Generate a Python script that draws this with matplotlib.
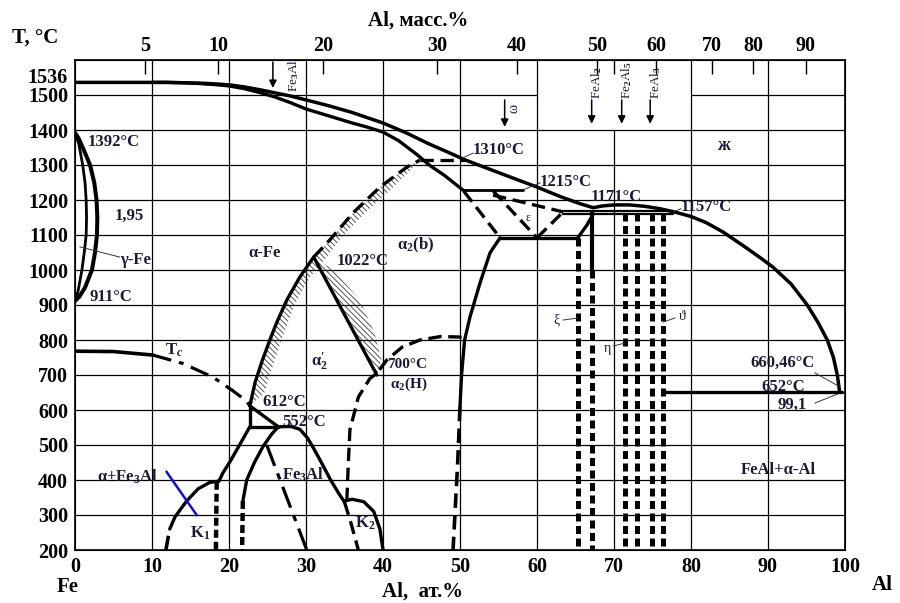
import matplotlib
matplotlib.use('Agg')
from matplotlib import pyplot as plt
from matplotlib.patches import Polygon

plt.rcParams['font.family'] = ['Liberation Serif', 'DejaVu Serif']
plt.rcParams['mathtext.fontset'] = 'custom'
plt.rcParams['mathtext.rm'] = 'Liberation Serif:bold'
plt.rcParams['mathtext.it'] = 'Liberation Serif:italic:bold'
plt.rcParams['mathtext.bf'] = 'Liberation Serif:bold'
plt.rcParams['hatch.linewidth'] = 0.6

# all curves: x = Al, at.%   y = T, degC
liq_x = [0, 10, 12, 14, 16, 18, 20, 22, 24, 26, 28, 30, 33, 36, 40, 43, 46, 48.5, 50.5, 53, 56,
         60, 63, 65.5, 67.3, 68.5, 70, 72, 74, 76, 78, 80, 82, 84.2, 87, 89, 90.6, 93, 95.1,
         96.5, 97.7, 98.5, 99.0, 99.3]
liq_t = [1536, 1536, 1536, 1535, 1534, 1532, 1529, 1523, 1515, 1506, 1497, 1486, 1469, 1450, 1420,
         1392, 1360, 1336, 1316, 1295, 1270, 1237, 1210, 1190, 1178, 1183, 1186, 1186, 1182, 1175,
         1165, 1153, 1135, 1108, 1066, 1035, 1009, 960, 900, 850, 800, 750, 700, 652]

sol_x = [10, 12, 14, 16, 18, 20, 22, 24, 26, 28, 30, 33, 36, 38, 40, 42, 44.4, 46, 48, 50.4]
sol_t = [1536, 1536, 1535, 1533, 1530, 1526, 1518, 1507, 1494, 1478, 1460, 1440, 1420, 1408,
         1394, 1370, 1330, 1300, 1270, 1228]

gamma_out_x = [0, 0.5, 1.2, 1.95, 2.5, 2.8, 2.9, 2.85, 2.6, 2.2, 1.3, 0.6, 0]
gamma_out_t = [1392, 1375, 1340, 1300, 1250, 1200, 1150, 1100, 1050, 1000, 950, 925, 911]
gamma_in_x = [0, 0.5, 1.0, 1.3, 1.45, 1.5, 1.45, 1.2, 0.9, 0.4, 0]
gamma_in_t = [1392, 1360, 1300, 1250, 1200, 1150, 1100, 1050, 1000, 940, 911]

# alpha / alpha2 boundary
a2_solid_x = [22.7, 23.4, 24.3, 25.3, 26.2, 27.5, 29.2, 31]
a2_solid_t = [612, 680, 740, 800, 850, 914, 980, 1037]
a2_dash_x = [31, 33.1, 36.1, 39.6, 43.1, 44.8]
a2_dash_t = [1037, 1086, 1163, 1237, 1294, 1314]
b_h_x = [31, 39.2]
b_h_t = [1037, 700]
h_dash_x = [35.3, 35.5, 35.7, 36.8, 38.3, 39.2, 40.5, 42.5, 44.8, 47.5, 50.7]
h_dash_t = [340, 449, 543, 637, 690, 705, 743, 780, 800, 810, 808]

# hatched bands (edges)
band_a_x = [22.9, 24.6, 25.6, 26.8, 28.5, 30.5, 32.8, 34.5, 37.5, 41, 43.8, 44.8]
band_a_t = [615, 650, 720, 800, 900, 980, 1040, 1090, 1160, 1230, 1290, 1314]
band_b_x = [31, 33.6, 37.0, 38.9, 39.8, 39.2]
band_b_t = [1037, 1000, 914, 820, 743, 700]

# B2 / FeAl boundary
b2_x = [55.2, 53.9, 52.6, 51.3, 50.6, 50.2, 50.0]
b2_t = [1092, 1049, 963, 866, 800, 700, 609]
b2_dash_x = [50.0, 49.7, 49.1]
b2_dash_t = [609, 450, 200]

# epsilon region
iso1215_x = [50.4, 58.2]
iso1215_t = [1228, 1228]
eps_left_x = [50.5, 55.2]
eps_left_t = [1225, 1092]
eps_mid_x = [54.3, 60]
eps_mid_t = [1226, 1092]
eps_right_x = [60, 63.4]
eps_right_t = [1092, 1166]
eps_top_x = [54.3, 63.4]
eps_top_t = [1214, 1166]
iso1092_x = [55.2, 65.3]
iso1092_t = [1092, 1092]
xi_top_x = [65.3, 66.5, 67.3]
xi_top_t = [1092, 1129, 1160]
iso1166_x = [63.4, 77.6]
iso1166_hi = 1169
iso1166_lo = 1159

# intermetallic phase boundaries (vertical)
xi_x = 65.3
fe_al2_x = 67.2
al_phases_x = [71.4, 73.0, 74.9, 76.4]

eut_x = [76.4, 99.6]
eut_t = [652, 652]

# low temperature part
tc_x = [0, 5, 10.1, 14, 17.9, 20.5, 22.3, 22.7]
tc_t = [768, 767, 757, 733, 694, 655, 625, 612]
v612_x = [22.7, 22.7]
v612_t = [612, 552]
d612_x = [22.7, 26.4]
d612_t = [612, 552]
iso552_x = [22.7, 26.4]
iso552_t = [552, 552]
k1_arc_x = [22.7, 21.5, 20.2, 19.2, 18.7]
k1_arc_t = [552, 505, 455, 420, 397]
k1_x = [12.3, 13, 14.5, 16, 17.5, 18.7]
k1_t = [260, 295, 340, 375, 393, 397]
k1_low_x = [11.8, 12.3]
k1_low_t = [200, 260]
v183_x = [18.4, 18.3]
v183_t = [395, 200]
fe3al_in_x = [26.4, 25.5, 24.4, 23.3, 22.3, 21.8]
fe3al_in_t = [552, 530, 495, 450, 400, 340]
fe3al_in_dash_x = [21.8, 21.7]
fe3al_in_dash_t = [340, 200]
fe3al_out_x = [26.4, 28.0, 29.2, 30.2, 31.0, 32.0, 33.2, 34.3, 35.0]
fe3al_out_t = [552, 553, 545, 520, 490, 450, 400, 360, 337]
fe3al_out_dash_x = [35.0, 35.8, 36.8]
fe3al_out_dash_t = [337, 280, 200]
fe3al_dd_x = [24.9, 30.1]
fe3al_dd_t = [500, 200]
k2_x = [35.0, 36.0, 37.5, 38.8, 39.6, 40.0]
k2_t = [340, 345, 338, 310, 260, 200]
blue_x = [11.9, 15.8]
blue_t = [423, 300]

# top axis: Al mass.% ticks placed at at.% positions
mass_tick_pos = [9.1, 18.6, 32.2, 47.0, 57.4, 67.8, 70.0, 75.5, 82.7, 88.1, 94.9]
mass_tick_lab = ['5', '10', '20', '30', '40', '50', '', '60', '70', '80', '90']
at_ticks = [0, 10, 20, 30, 40, 50, 60, 70, 80, 90, 100]
t_ticks = [200, 300, 400, 500, 600, 700, 800, 900, 1000, 1100, 1200, 1300, 1400, 1500]

# phase arrows at the top: (at.%, label)
arrow_x = [25.7, 55.8, 67.1, 71.0, 74.7]
arrow_lab = [r'Fe$_3$Al', 'ω', r'FeAl$_2$', r'Fe$_2$Al$_5$', r'FeAl$_3$']

TXT = '#1a1a33'
LW = 2.4


def line(ax, xs, ts, ls='-', lw=LW, color='k', **kw):
    ax.plot(xs, ts, ls=ls, lw=lw, color=color, solid_capstyle='round',
            solid_joinstyle='round', dash_capstyle='butt', zorder=4, **kw)


def dashed(ax, xs, ts, lw=LW):
    line(ax, xs, ts, ls=(0, (4, 2)), lw=lw)


def label(ax, x, t, s, size=12, ha='left', weight='bold', **kw):
    ax.text(x, t, s, fontsize=size, ha=ha, va='center', color=TXT,
            fontweight=weight, zorder=6, **kw)


def leader(ax, x0, t0, x1, t1):
    ax.plot([x0, x1], [t0, t1], color='#333344', lw=0.7, zorder=5)


fig = plt.figure(figsize=(9, 6.03), dpi=100)
ax = fig.add_axes([75 / 900, 1 - 550 / 603, 770 / 900, 490 / 603])
ax.set_xlim(0, 100)
ax.set_ylim(200, 1600)

# grid drawn by hand (gaps near the top arrows)
for gx in at_ticks[1:-1]:
    top = 1400 if gx == 70 else 1600
    ax.vlines(gx, 200, top, color='k', lw=0.9, zorder=1)
for gt in t_ticks[1:]:
    if gt == 1500:
        ax.hlines(gt, 0, 60, color='k', lw=0.9, zorder=1)
        ax.hlines(gt, 80, 100, color='k', lw=0.9, zorder=1)
    else:
        ax.hlines(gt, 0, 100, color='k', lw=0.9, zorder=1)

for sp in ax.spines.values():
    sp.set_linewidth(1.2)

# hatched bands
pa = list(zip(a2_solid_x, a2_solid_t)) + list(zip(a2_dash_x, a2_dash_t))[1:]
pa += list(zip(band_a_x, band_a_t))[::-1]
ax.add_patch(Polygon(pa, closed=True, facecolor='none', edgecolor='#3a3a3a',
                     hatch=r'\\\\\\', lw=0, zorder=2))
pb = list(zip(b_h_x, b_h_t)) + list(zip(band_b_x, band_b_t))[::-1]
ax.add_patch(Polygon(pb, closed=True, facecolor='none', edgecolor='#3a3a3a',
                     hatch=r'\\\\\\', lw=0, zorder=2))

# high temperature lines
line(ax, liq_x, liq_t, lw=2.5)
line(ax, sol_x, sol_t)
line(ax, gamma_out_x, gamma_out_t, lw=2.9)
line(ax, gamma_in_x, gamma_in_t, lw=2.0)
line(ax, a2_solid_x, a2_solid_t)
dashed(ax, a2_dash_x, a2_dash_t)
dashed(ax, [44.8, 50.6], [1314, 1314])
line(ax, b_h_x, b_h_t)
dashed(ax, h_dash_x, h_dash_t)
line(ax, b2_x, b2_t)
dashed(ax, b2_dash_x, b2_dash_t, lw=2.6)

line(ax, iso1215_x, iso1215_t, lw=2.0)
dashed(ax, eps_left_x, eps_left_t)
dashed(ax, eps_mid_x, eps_mid_t)
dashed(ax, eps_right_x, eps_right_t)
dashed(ax, eps_top_x, eps_top_t)
line(ax, iso1092_x, iso1092_t)
line(ax, xi_top_x, xi_top_t)
line(ax, iso1166_x, [iso1166_hi] * 2, lw=1.6)
line(ax, iso1166_x, [iso1166_lo] * 2, lw=1.6)

heavy = dict(ls=(0, (1.6, 0.9)), lw=3.6)
line(ax, [xi_x, xi_x], [1092, 200], **heavy)
line(ax, [fe_al2_x, fe_al2_x], [1166, 1000], lw=3.0)
line(ax, [fe_al2_x, fe_al2_x], [1000, 200], **heavy)
for px in al_phases_x:
    line(ax, [px, px], [1164, 200], **heavy)
line(ax, eut_x, eut_t)

# low temperature lines
line(ax, tc_x[:3], tc_t[:3], lw=2.6)
line(ax, tc_x[2:], tc_t[2:], ls=(0, (6, 2.5, 1.5, 2.5)), lw=2.3)
line(ax, v612_x, v612_t)
line(ax, d612_x, d612_t)
line(ax, iso552_x, iso552_t)
line(ax, k1_arc_x, k1_arc_t)
line(ax, k1_x, k1_t)
dashed(ax, k1_low_x, k1_low_t, lw=2.6)
line(ax, v183_x, v183_t, ls=(0, (1.8, 0.9)), lw=3.2)
line(ax, fe3al_in_x, fe3al_in_t)
line(ax, fe3al_in_dash_x, fe3al_in_dash_t, ls=(0, (1.8, 0.9)), lw=3.2)
line(ax, fe3al_out_x, fe3al_out_t)
dashed(ax, fe3al_out_dash_x, fe3al_out_dash_t, lw=2.4)
line(ax, fe3al_dd_x, fe3al_dd_t, ls=(0, (7, 2.5, 2, 2.5)), lw=2.3)
line(ax, k2_x, k2_t)
ax.plot(blue_x, blue_t, color='#1010cc', lw=1.8, zorder=5)

# arrows at the top
arrow_tail = [1594, 1486, 1486, 1486, 1486]
arrow_tip = [1520, 1409, 1418, 1418, 1418]
for ptx, lab, t0, t1 in zip(arrow_x, arrow_lab, arrow_tail, arrow_tip):
    ax.annotate('', xy=(ptx, t1), xytext=(ptx, t0),
                arrowprops=dict(arrowstyle='-|>', color='k', lw=1.1,
                                mutation_scale=11, shrinkA=0, shrinkB=0),
                zorder=6)
ax.text(28.4, 1557, arrow_lab[0], rotation=90, fontsize=9.5, ha='center', va='center', color=TXT)
ax.text(57.0, 1462, arrow_lab[1], rotation=90, fontsize=10, ha='center', va='center', color=TXT)
for ptx, lab in zip(arrow_x[2:], arrow_lab[2:]):
    ax.text(ptx + 0.7, 1488, lab, rotation=90, fontsize=9.5, ha='center', va='bottom', color=TXT)

# labels inside the diagram
label(ax, 1.7, 1366, '1392°C')
label(ax, 5.2, 1154, '1,95')
label(ax, 5.8, 1029, 'γ-Fe')
leader(ax, 0.65, 1066, 5.8, 1037)
label(ax, 1.9, 923, '911°C')
label(ax, 22.5, 1049, 'α-Fe')
label(ax, 34.0, 1026, '1022°C')
label(ax, 41.8, 1069, r'α$_2$(b)')
label(ax, 51.7, 1343, '1310°C')
leader(ax, 50.3, 1320, 51.7, 1334)
label(ax, 60.4, 1251, '1215°C')
leader(ax, 58.2, 1229, 60.4, 1249)
label(ax, 58.8, 1149, 'ε', size=8.5, ha='center', weight='normal')
label(ax, 66.9, 1209, '1171°C')
label(ax, 78.6, 1180, '1157°C')
leader(ax, 77.7, 1166, 78.7, 1175)
label(ax, 84.2, 1357, 'ж', size=13, ha='center')
label(ax, 62.5, 857, 'ξ', size=10, ha='center', weight='normal')
leader(ax, 63.4, 857, 65.3, 863)
label(ax, 69.1, 777, 'η', size=10, ha='center', weight='normal')
leader(ax, 69.9, 783, 71.4, 791)
label(ax, 78.8, 866, 'ϑ', size=10, ha='center', weight='normal')
leader(ax, 76.4, 851, 77.9, 863)
label(ax, 31.8, 737, r'α$_2^{\prime}$', ha='center')
label(ax, 40.5, 730, '700°C', size=11)
label(ax, 40.9, 674, r'α$_2$(H)', size=11)
label(ax, 24.3, 623, '612°C')
label(ax, 26.9, 566, '552°C')
label(ax, 26.9, 414, r'Fe$_3$Al')
label(ax, 36.4, 277, r'K$_2$')
label(ax, 14.9, 249, r'K$_1$')
label(ax, 2.9, 409, r'α+Fe$_3$Al')
label(ax, 11.7, 771, r'T$_c$')
label(ax, 86.4, 429, 'FeAl+α-Al')
label(ax, 87.7, 734, '660,46°C')
leader(ax, 96.1, 706, 99.1, 669)
label(ax, 89.2, 666, '652°C')
label(ax, 91.2, 614, '99,1')
leader(ax, 96.1, 620, 99.1, 646)

# axes ticks
big = dict(fontsize=14.5, fontweight='bold')
ax.set_xticks(at_ticks)
ax.set_xticklabels([str(v) for v in at_ticks], **big)
ax.set_yticks(t_ticks)
ax.set_yticklabels([str(v) for v in t_ticks], **big)
ax.tick_params(length=0, pad=5)
ax.text(-0.009, 1549, '1536', transform=ax.get_yaxis_transform(), ha='right', va='center', **big)

ax_top = ax.twiny()
ax_top.set_xlim(0, 100)
ax_top.set_xticks(mass_tick_pos)
ax_top.set_xticklabels(mass_tick_lab, **big)
ax_top.tick_params(direction='in', length=10, width=1.0, pad=3)

title = dict(fontsize=15, fontweight='bold', va='center')
fig.text(12 / 900, 1 - 38 / 603, 'T, °C', **title)
fig.text(418 / 900, 1 - 21 / 603, 'Al, масс.%', ha='center', **title)
fig.text(423 / 900, 1 - 592 / 603, 'Al,  ат.%', ha='center', **title)
fig.text(68 / 900, 1 - 587 / 603, 'Fe', ha='center', **title)
fig.text(882 / 900, 1 - 585 / 603, 'Al', ha='center', **title)

fig.savefig('out.png', dpi=100)
